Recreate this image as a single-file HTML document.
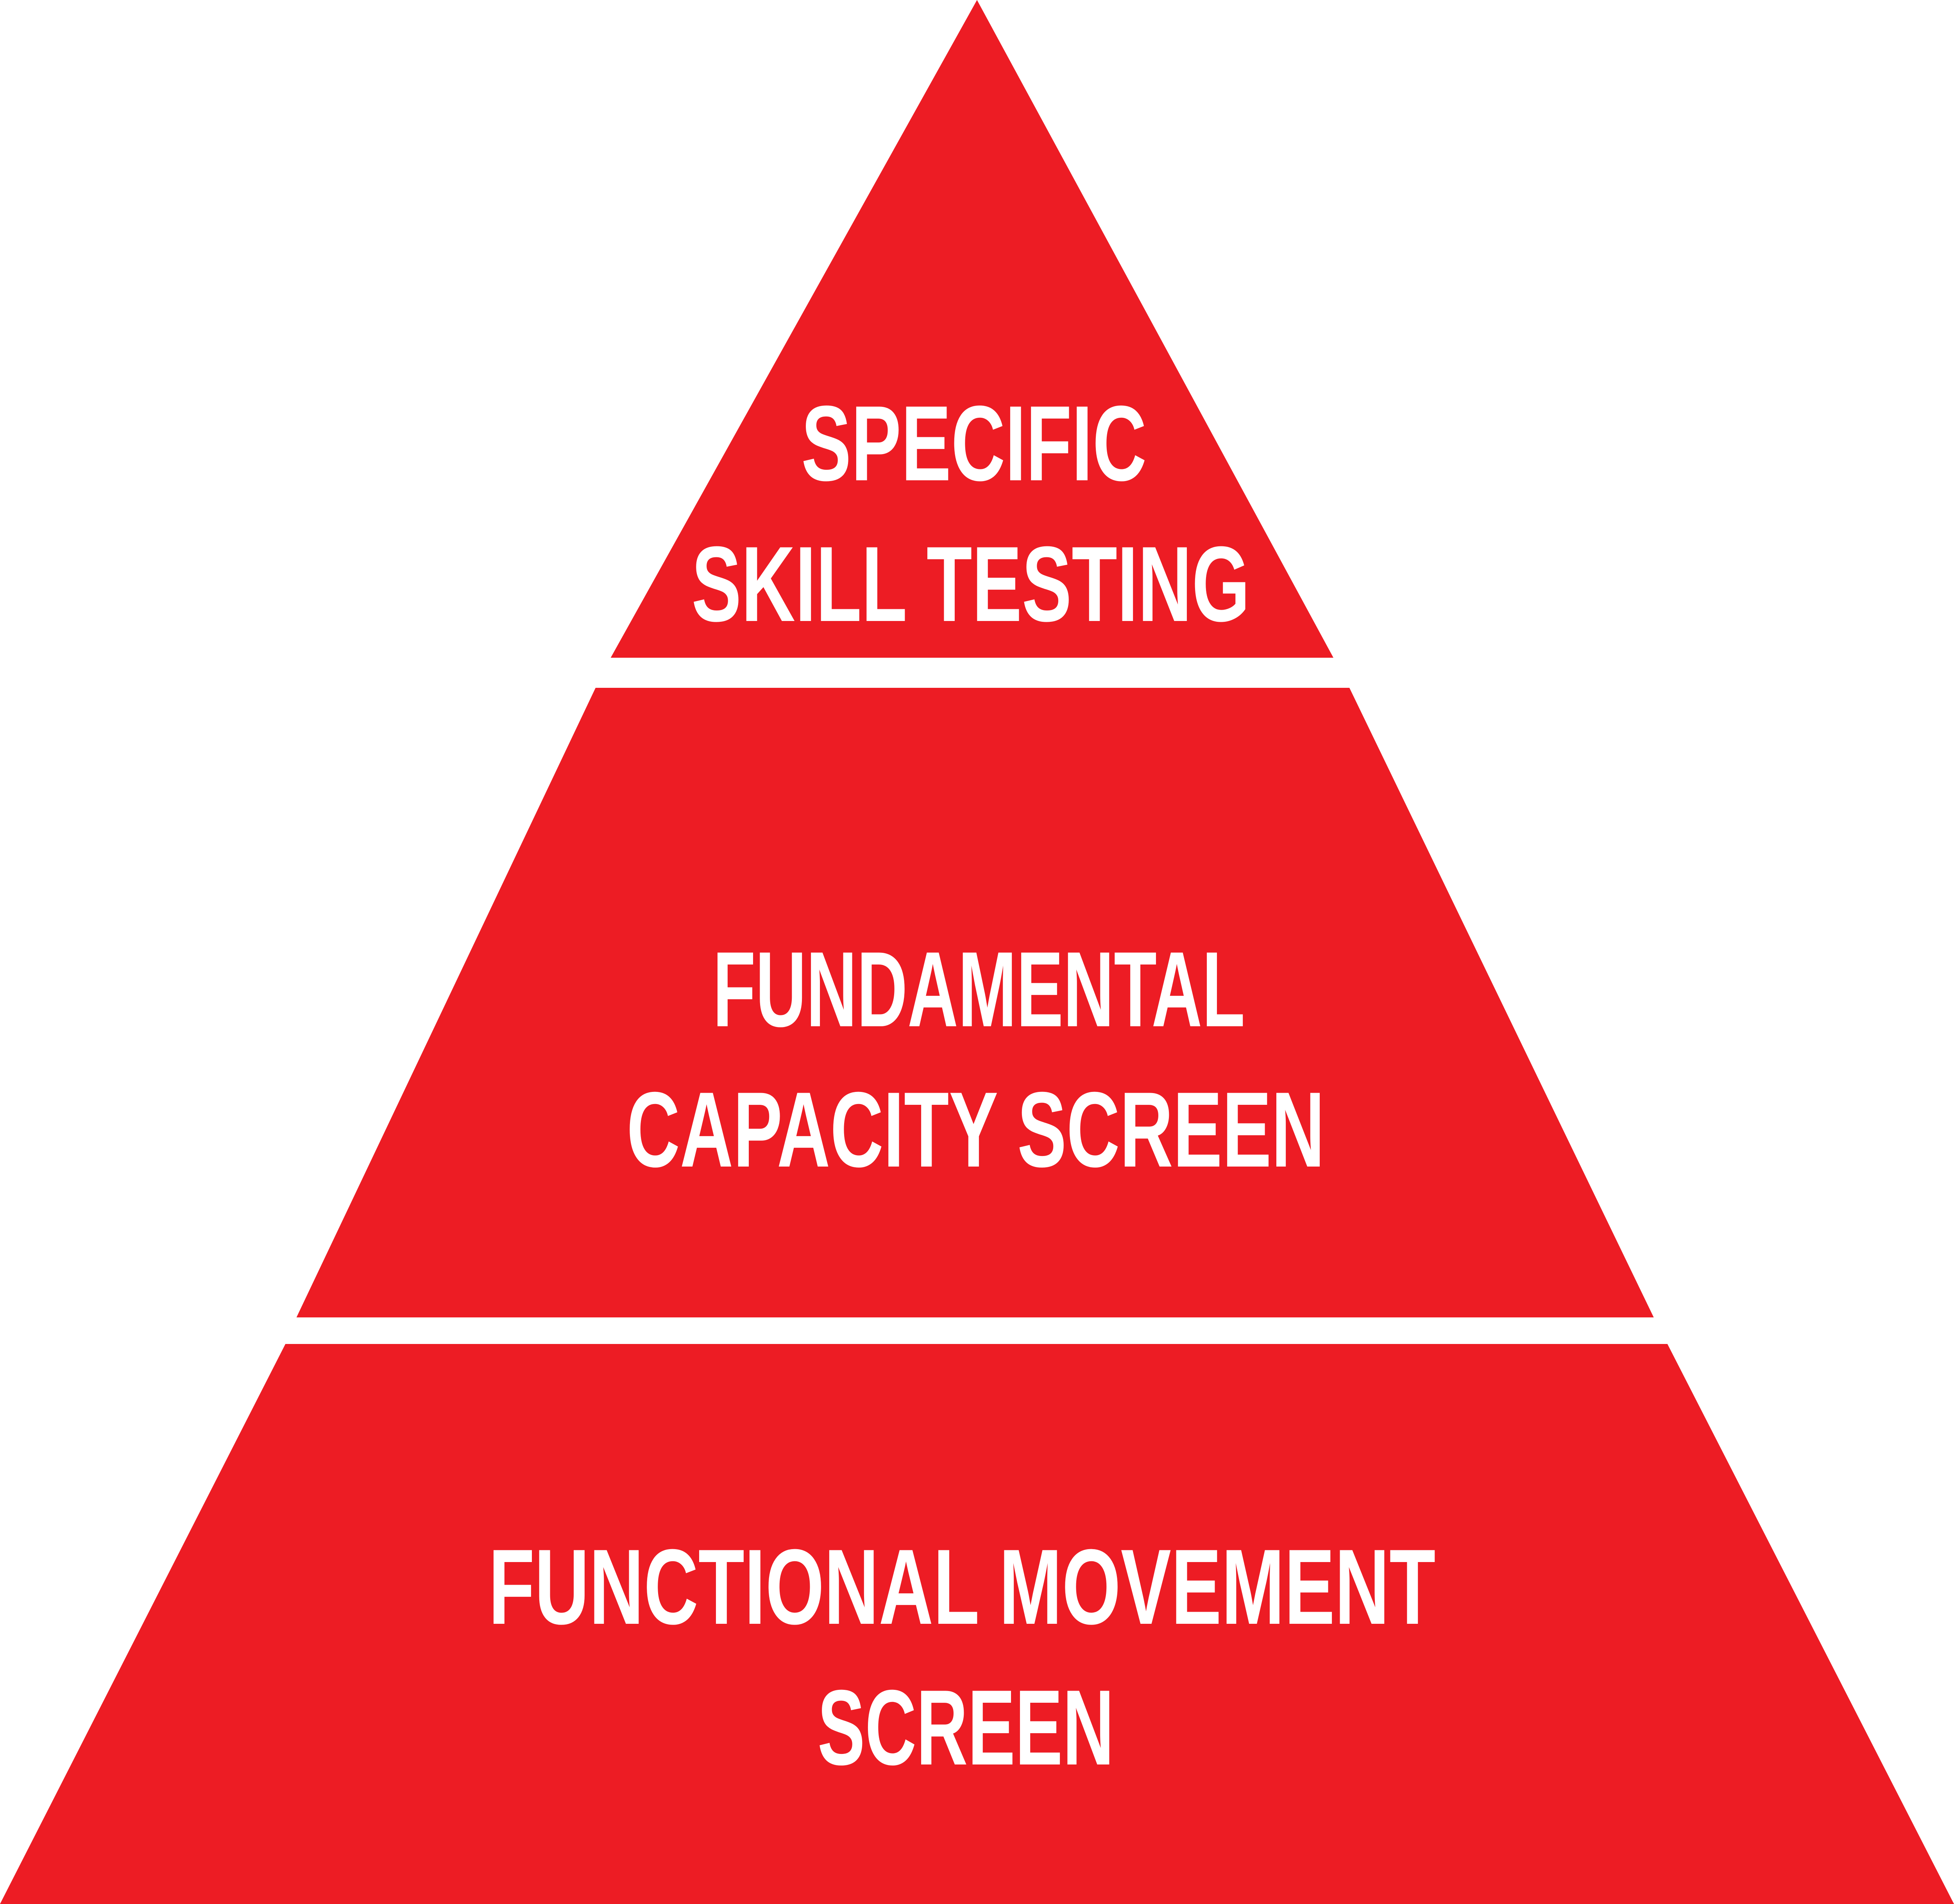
<!DOCTYPE html>
<html><head><meta charset="utf-8"><style>
html,body{margin:0;padding:0;background:#fff;width:100%;height:100%;overflow:hidden}
svg{display:block;position:absolute;left:0;top:0;width:100vw;height:100vh}
</style></head><body>
<svg viewBox="0 0 6716 4872" preserveAspectRatio="none" xmlns="http://www.w3.org/2000/svg">
<g fill="#ED1C24">
<polygon points="3358,0 4583,1683 2099,1683"/>
<polygon points="2047,1760 4638,1760 5684,3371 1019,3371"/>
<polygon points="981,3439 5731,3439 6716,4872 0,4872"/>
</g>
<g fill="#fff" font-family="Liberation Sans, sans-serif" font-weight="bold" font-size="274">
<text x="2754" y="1229" textLength="1187" lengthAdjust="spacingAndGlyphs">SPECIFIC</text>
<text x="2377" y="1589" textLength="1919" lengthAdjust="spacingAndGlyphs">SKILL TESTING</text>
<text x="2450" y="2626" textLength="1829" lengthAdjust="spacingAndGlyphs">FUNDAMENTAL</text>
<text x="2154" y="2985" textLength="2399" lengthAdjust="spacingAndGlyphs">CAPACITY SCREEN</text>
<text x="1679" y="4155" textLength="3255" lengthAdjust="spacingAndGlyphs">FUNCTIONAL MOVEMENT</text>
<text x="2810" y="4515" textLength="1019" lengthAdjust="spacingAndGlyphs">SCREEN</text>
</g>
</svg>
</body></html>
